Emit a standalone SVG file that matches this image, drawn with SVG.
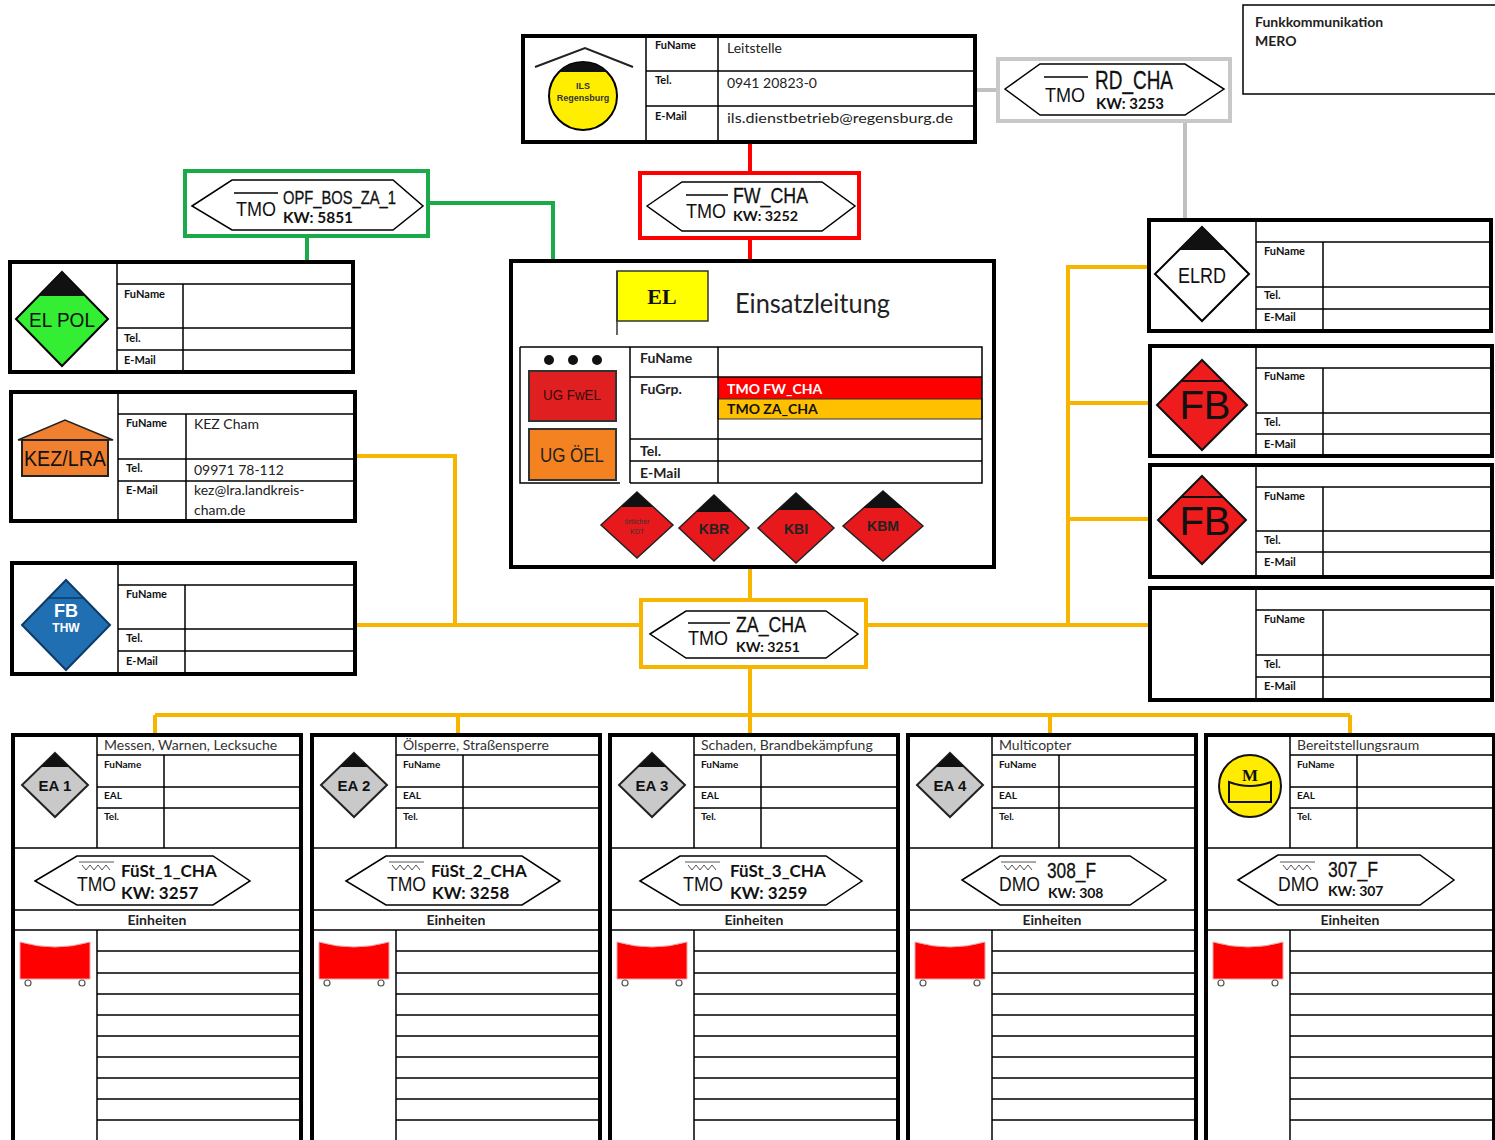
<svg xmlns="http://www.w3.org/2000/svg" width="1495" height="1140" viewBox="0 0 1495 1140">
<style>
.frame{fill:#fff;stroke:#000;stroke-width:4}
.ln{stroke:#000;stroke-width:1.5;fill:none}
.k{font-family:Lato,"Open Sans",sans-serif;font-weight:bold;font-size:11px;fill:#111}
.k2{font-family:Lato,"Open Sans",sans-serif;font-weight:bold;font-size:10px;fill:#111}
.v{font-family:Lato,"Open Sans",sans-serif;font-size:14px;fill:#222}
.hx{fill:#fff;stroke:#000;stroke-width:1.5}
.tmo{font-family:"Liberation Sans",sans-serif;font-size:20px;fill:#111}
.nm{font-family:"Liberation Sans",sans-serif;font-size:22px;fill:#111;stroke:#111;stroke-width:0.3}
.kw{font-family:Lato,"Open Sans",sans-serif;font-weight:bold;font-size:15px;fill:#111}
.fs{font-family:Lato,"Open Sans",sans-serif;font-weight:bold;font-size:17px;fill:#111}
.ttl{font-family:Lato,"Open Sans",sans-serif;font-size:14px;fill:#333}
.dt{font-family:"Liberation Sans",sans-serif;text-anchor:middle}
.wave{stroke:#555;stroke-width:1;fill:none}
.con{fill:none;stroke-width:4}
</style>

<!-- connectors -->
<g id="connectors" class="con">
  <path d="M976,90 H998 M1185,121 V220" stroke="#c0c0c0"/>
  <path d="M750,142 V173 M750,238 V261" stroke="#ff0000"/>
  <path d="M307,236 V262 M428,203 H553 V261" stroke="#1aaa4a"/>
  <path d="M750,567 V600 M641,625 H355 M455,625 V456 H355 M866,625 H1150 M1068,625 V267 H1149 M1068,403 H1150 M1068,519 H1150 M750,667 V715 M155,715 H1350 M155,715 V735 M458,715 V735 M750,715 V735 M1050,715 V735 M1350,715 V735" stroke="#f7b500"/>
</g>

<!-- ILS Leitstelle -->
<g id="ils">
  <rect class="frame" x="523" y="36" width="452" height="106"/>
  <path class="ln" d="M646,36 V142 M718,36 V142 M646,71 H975 M646,106 H975"/>
  <polyline points="535,67 585,48 633,67" fill="none" stroke="#222" stroke-width="2"/>
  <circle cx="583" cy="96" r="34" fill="#ffee00" stroke="#000" stroke-width="2"/>
  <path d="M559,72 A34,34 0 0 1 607,72 Z" fill="#111"/>
  <text x="583" y="89" class="dt" font-size="9" font-weight="bold" fill="#333">ILS</text>
  <text x="583" y="101" class="dt" font-size="9" font-weight="bold" fill="#333">Regensburg</text>
  <text x="655" y="49" class="k">FuName</text>
  <text x="655" y="84" class="k">Tel.</text>
  <text x="655" y="120" class="k">E-Mail</text>
  <text x="727" y="53" class="v">Leitstelle</text>
  <text x="727" y="88" class="v">0941 20823-0</text>
  <text x="727" y="123" class="v" textLength="226" lengthAdjust="spacingAndGlyphs">ils.dienstbetrieb@regensburg.de</text>
</g>

<!-- Funkkommunikation -->
<g id="funk">
  <rect x="1243" y="5" width="260" height="89" fill="#fff" stroke="#000" stroke-width="1.5"/>
  <text x="1255" y="27" class="v" font-weight="bold">Funkkommunikation</text>
  <text x="1255" y="46" class="v" font-weight="bold">MERO</text>
</g>

<!-- RD_CHA -->
<g id="rd_cha">
  <rect x="998" y="59" width="232" height="62" fill="#fff" stroke="#c8c8c8" stroke-width="4"/>
  <polygon class="hx" points="1005,89 1040,64 1185,64 1224,89 1185,115 1040,115"/>
  <line x1="1044" y1="77" x2="1088" y2="77" class="ln"/>
  <text x="1045" y="102" class="tmo" textLength="40" lengthAdjust="spacingAndGlyphs">TMO</text>
  <text x="1095" y="89" class="nm" style="font-size:25px" textLength="78" lengthAdjust="spacingAndGlyphs">RD_CHA</text>
  <text x="1096" y="109" class="kw" textLength="68" lengthAdjust="spacingAndGlyphs">KW: 3253</text>
</g>

<!-- FW_CHA -->
<g id="fw_cha">
  <rect x="640" y="173" width="219" height="65" fill="#fff" stroke="#ff0000" stroke-width="4"/>
  <polygon class="hx" points="647,206 682,182 822,182 855,206 822,231 682,231"/>
  <line x1="686" y1="195" x2="728" y2="195" class="ln"/>
  <text x="686" y="218" class="tmo" textLength="40" lengthAdjust="spacingAndGlyphs">TMO</text>
  <text x="733" y="203" class="nm" textLength="75" lengthAdjust="spacingAndGlyphs">FW_CHA</text>
  <text x="733" y="221" class="kw" style="font-size:14px" textLength="65" lengthAdjust="spacingAndGlyphs">KW: 3252</text>
</g>

<!-- OPF_BOS_ZA_1 -->
<g id="opf">
  <rect x="185" y="171" width="243" height="65" fill="#fff" stroke="#1aaa4a" stroke-width="4"/>
  <polygon class="hx" points="192,206 232,180 393,180 423,206 393,230 232,230"/>
  <line x1="234" y1="193" x2="278" y2="193" class="ln"/>
  <text x="236" y="216" class="tmo" textLength="40" lengthAdjust="spacingAndGlyphs">TMO</text>
  <text x="283" y="204" class="nm" style="font-size:18px" textLength="113" lengthAdjust="spacingAndGlyphs">OPF_BOS_ZA_1</text>
  <text x="283" y="223" class="kw" textLength="70" lengthAdjust="spacingAndGlyphs">KW: 5851</text>
</g>

<!-- ZA_CHA -->
<g id="za_cha">
  <rect x="641" y="600" width="225" height="67" fill="#fff" stroke="#f7b500" stroke-width="4"/>
  <polygon class="hx" points="650,634 686,611 826,611 858,634 826,658 686,658"/>
  <line x1="688" y1="623" x2="730" y2="623" class="ln"/>
  <text x="688" y="645" class="tmo" textLength="40" lengthAdjust="spacingAndGlyphs">TMO</text>
  <text x="736" y="632" class="nm" textLength="70" lengthAdjust="spacingAndGlyphs">ZA_CHA</text>
  <text x="736" y="652" class="kw" style="font-size:14px" textLength="64" lengthAdjust="spacingAndGlyphs">KW: 3251</text>
</g>

<!-- EL POL -->
<g id="elpol">
  <rect class="frame" x="10" y="262" width="343" height="110"/>
  <path class="ln" d="M117,262 V372 M117,284 H353 M183,284 V372 M117,328 H353 M117,350 H353"/>
  <polygon points="62,272 108,319 62,366 16,319" fill="#33ee33" stroke="#000" stroke-width="2"/>
  <polygon points="62,272 85.5,296 38.5,296" fill="#111"/>
  <text x="62" y="327" class="dt" font-size="21" fill="#111" textLength="66" lengthAdjust="spacingAndGlyphs">EL POL</text>
  <text x="124" y="298" class="k">FuName</text>
  <text x="124" y="342" class="k">Tel.</text>
  <text x="124" y="364" class="k">E-Mail</text>
</g>

<!-- KEZ/LRA -->
<g id="kez">
  <rect class="frame" x="11" y="392" width="344" height="129"/>
  <path class="ln" d="M118,392 V521 M118,414 H355 M186,414 V521 M118,459 H355 M118,481 H355"/>
  <polygon points="18,440 65,420 113,440" fill="#f08030" stroke="#222" stroke-width="1.5"/>
  <rect x="22" y="440" width="86" height="36" fill="#f08030" stroke="#222" stroke-width="2"/>
  <text x="65" y="466" class="dt" font-size="22" fill="#111" textLength="82" lengthAdjust="spacingAndGlyphs">KEZ/LRA</text>
  <text x="126" y="427" class="k">FuName</text>
  <text x="126" y="472" class="k">Tel.</text>
  <text x="126" y="494" class="k">E-Mail</text>
  <text x="194" y="429" class="v">KEZ Cham</text>
  <text x="194" y="475" class="v">09971 78-112</text>
  <text x="194" y="495" class="v">kez@lra.landkreis-</text>
  <text x="194" y="515" class="v">cham.de</text>
</g>

<!-- FB THW -->
<g id="fbthw">
  <rect class="frame" x="12" y="563" width="343" height="111"/>
  <path class="ln" d="M118,563 V674 M118,585 H355 M185,585 V674 M118,629 H355 M118,651 H355"/>
  <polygon points="66,580 110,625 66,670 22,625" fill="#1f6fb2" stroke="#0d3b66" stroke-width="2"/>
  <line x1="48" y1="598" x2="84" y2="598" stroke="#0d3b66" stroke-width="1.5"/>
  <text x="66" y="617" class="dt" font-size="18" font-weight="bold" fill="#fff">FB</text>
  <text x="66" y="632" class="dt" font-size="12" font-weight="bold" fill="#fff">THW</text>
  <text x="126" y="598" class="k">FuName</text>
  <text x="126" y="642" class="k">Tel.</text>
  <text x="126" y="665" class="k">E-Mail</text>
</g>

<!-- Einsatzleitung -->
<g id="el">
  <rect class="frame" x="511" y="261" width="483" height="306"/>
  <rect x="617" y="271" width="91" height="50" fill="#ffff00" stroke="#333" stroke-width="1.5"/>
  <line x1="617" y1="271" x2="617" y2="335" stroke="#333" stroke-width="1.5"/>
  <text x="662" y="304" text-anchor="middle" font-family="'Liberation Serif',serif" font-weight="bold" font-size="22" fill="#111">EL</text>
  <text x="735" y="313" font-family="Lato,'Open Sans',sans-serif" font-size="26" fill="#222" textLength="155" lengthAdjust="spacingAndGlyphs">Einsatzleitung</text>
  <rect x="718" y="377" width="264" height="22" fill="#ff0000"/>
  <rect x="718" y="399" width="264" height="20" fill="#ffc000" stroke="#333" stroke-width="1"/>
  <path class="ln" d="M520,347 H982 V483 H630 M620,483 H520 V347 M630,347 V483 M718,347 V483 M630,377 H982 M630,439 H982 M630,461 H982"/>
  <circle cx="549" cy="360" r="5" fill="#111"/>
  <circle cx="573" cy="360" r="5" fill="#111"/>
  <circle cx="597" cy="360" r="5" fill="#111"/>
  <rect x="529" y="371" width="87" height="50" fill="#e02020" stroke="#333" stroke-width="2"/>
  <text x="572" y="400" class="dt" font-size="14" fill="#3a0a0a" textLength="58" lengthAdjust="spacingAndGlyphs">UG FwEL</text>
  <rect x="529" y="429" width="87" height="51" fill="#f58220" stroke="#333" stroke-width="2"/>
  <text x="572" y="462" class="dt" font-size="20" fill="#222" textLength="64" lengthAdjust="spacingAndGlyphs">UG ÖEL</text>
  <text x="640" y="363" class="v" font-weight="bold">FuName</text>
  <text x="640" y="394" class="v" font-weight="bold">FuGrp.</text>
  <text x="640" y="456" class="v" font-weight="bold">Tel.</text>
  <text x="640" y="478" class="v" font-weight="bold">E-Mail</text>
  <text x="727" y="394" class="v" font-weight="bold" style="fill:#fff">TMO FW_CHA</text>
  <text x="727" y="414" class="v" font-weight="bold" style="fill:#111">TMO ZA_CHA</text>
  <polygon points="637,492 673,525 637,558 601,525" fill="#e8191d" stroke="#222" stroke-width="1.5"/>
  <polygon points="637,492 653,507 621,507" fill="#111"/>
  <text x="637" y="524" class="dt" font-size="7" fill="#333">örtlicher</text>
  <text x="637" y="534" class="dt" font-size="7" fill="#333">KDT</text>
  <polygon points="714,495 749,528 714,561 679,528" fill="#e8191d" stroke="#222" stroke-width="1.5"/>
  <polygon points="714,495 732,512 696,512" fill="#111"/>
  <text x="714" y="534" class="dt" font-size="14" font-weight="bold" fill="#222">KBR</text>
  <polygon points="796,493 834,528 796,563 758,528" fill="#e8191d" stroke="#222" stroke-width="1.5"/>
  <polygon points="796,493 814,510 778,510" fill="#111"/>
  <text x="796" y="534" class="dt" font-size="14" font-weight="bold" fill="#222">KBI</text>
  <polygon points="883,491 923,526 883,561 843,526" fill="#e8191d" stroke="#222" stroke-width="1.5"/>
  <polygon points="883,491 903,508 863,508" fill="#111"/>
  <text x="883" y="531" class="dt" font-size="14" font-weight="bold" fill="#222">KBM</text>
</g>

<!-- ELRD -->
<g id="elrd">
  <rect class="frame" x="1149" y="220" width="342" height="111"/>
  <path class="ln" d="M1256,220 V331 M1256,242 H1491 M1323,242 V331 M1256,287 H1491 M1256,309 H1491"/>
  <polygon points="1202,227 1249,274 1202,321 1155,274" fill="#fff" stroke="#000" stroke-width="2"/>
  <polygon points="1202,227 1225,250 1179,250" fill="#111"/>
  <text x="1202" y="283" class="dt" font-size="22" fill="#111" textLength="48" lengthAdjust="spacingAndGlyphs">ELRD</text>
  <text x="1264" y="255" class="k">FuName</text>
  <text x="1264" y="299" class="k">Tel.</text>
  <text x="1264" y="321" class="k">E-Mail</text>
</g>

<!-- FB 1 -->
<g id="fb1">
  <rect class="frame" x="1150" y="346" width="342" height="110"/>
  <path class="ln" d="M1256,346 V456 M1256,368 H1492 M1323,368 V456 M1256,413 H1492 M1256,434 H1492"/>
  <polygon points="1202,360 1247,405 1202,450 1157,405" fill="#ee1c1c" stroke="#111" stroke-width="2"/>
  <line x1="1182" y1="381" x2="1222" y2="381" stroke="#111" stroke-width="2"/>
  <text x="1205" y="419" class="dt" font-size="40" fill="#111">FB</text>
  <text x="1264" y="380" class="k">FuName</text>
  <text x="1264" y="426" class="k">Tel.</text>
  <text x="1264" y="448" class="k">E-Mail</text>
</g>

<!-- FB 2 -->
<g id="fb2">
  <rect class="frame" x="1150" y="465" width="342" height="112"/>
  <path class="ln" d="M1256,465 V577 M1256,487 H1492 M1323,487 V577 M1256,531 H1492 M1256,552 H1492"/>
  <polygon points="1202,476 1246,520 1202,564 1158,520" fill="#ee1c1c" stroke="#111" stroke-width="2"/>
  <line x1="1181" y1="497" x2="1223" y2="497" stroke="#111" stroke-width="2"/>
  <text x="1205" y="535" class="dt" font-size="40" fill="#111">FB</text>
  <text x="1264" y="500" class="k">FuName</text>
  <text x="1264" y="544" class="k">Tel.</text>
  <text x="1264" y="566" class="k">E-Mail</text>
</g>

<!-- Empty right box -->
<g id="box4">
  <rect class="frame" x="1150" y="588" width="342" height="112"/>
  <path class="ln" d="M1256,588 V700 M1256,610 H1492 M1323,610 V700 M1256,655 H1492 M1256,677 H1492"/>
  <text x="1264" y="623" class="k">FuName</text>
  <text x="1264" y="668" class="k">Tel.</text>
  <text x="1264" y="690" class="k">E-Mail</text>
</g>

<defs>
  <g id="eaframe">
    <rect class="frame" x="13" y="735" width="288" height="420"/>
    <path class="ln" d="M97,735 V848 M97,755 H301 M164,755 V848 M97,787 H301 M97,808 H301 M13,848 H301 M13,910 H301 M13,930 H301 M97,930 V1140 M97,951 H301 M97,973 H301 M97,994 H301 M97,1015 H301 M97,1036 H301 M97,1057 H301 M97,1078 H301 M97,1099 H301 M97,1120 H301"/>
    <text x="104" y="768" class="k2">FuName</text>
    <text x="104" y="799" class="k2">EAL</text>
    <text x="104" y="820" class="k2">Tel.</text>
    <text x="157" y="925" class="v" font-weight="bold" text-anchor="middle">Einheiten</text>
    <path d="M20,942 Q55,952 90,942 L90,979 L20,979 Z" fill="#ff0000" stroke="#f4a0a0" stroke-width="1"/>
    <circle cx="28" cy="983" r="3" fill="none" stroke="#555" stroke-width="1.2"/>
    <circle cx="82" cy="983" r="3" fill="none" stroke="#555" stroke-width="1.2"/>
  </g>
  <g id="eadia">
    <polygon points="55,753 88,785 55,817 22,785" fill="#c9c9c9" stroke="#222" stroke-width="2"/>
    <polygon points="55,753 69.4,767 40.6,767" fill="#111"/>
  </g>
</defs>

<!-- EA 1 -->
<g id="ea1">
  <use href="#eaframe"/>
  <use href="#eadia"/>
  <text x="55" y="791" class="dt" font-size="15" font-weight="bold" fill="#111">EA 1</text>
  <text x="104" y="750" class="ttl">Messen, Warnen, Lecksuche</text>
  <polygon class="hx" points="35,881 77,856 213,856 250,881 213,905 77,905"/>
  <line x1="79" y1="862" x2="114" y2="862" class="wave"/>
  <polyline class="wave" points="82,865 86,870 90,865 94,870 98,865 102,870 106,865 110,870"/>
  <text x="77" y="891" class="tmo" textLength="39" lengthAdjust="spacingAndGlyphs">TMO</text>
  <text x="121" y="877" class="fs">FüSt_1_CHA</text>
  <text x="121" y="899" class="fs">KW: 3257</text>
</g>

<!-- EA 2 -->
<g id="ea2" transform="translate(299,0)">
  <use href="#eaframe"/>
  <use href="#eadia"/>
  <text x="55" y="791" class="dt" font-size="15" font-weight="bold" fill="#111">EA 2</text>
  <text x="104" y="750" class="ttl">Ölsperre, Straßensperre</text>
  <polygon class="hx" points="47,881 87,856 223,856 261,881 223,905 87,905"/>
  <line x1="90" y1="862" x2="125" y2="862" class="wave"/>
  <polyline class="wave" points="93,865 97,870 101,865 105,870 109,865 113,870 117,865 121,870"/>
  <text x="88" y="891" class="tmo" textLength="39" lengthAdjust="spacingAndGlyphs">TMO</text>
  <text x="132" y="877" class="fs">FüSt_2_CHA</text>
  <text x="133" y="899" class="fs">KW: 3258</text>
</g>

<!-- EA 3 -->
<g id="ea3" transform="translate(597,0)">
  <use href="#eaframe"/>
  <use href="#eadia"/>
  <text x="55" y="791" class="dt" font-size="15" font-weight="bold" fill="#111">EA 3</text>
  <text x="104" y="750" class="ttl">Schaden, Brandbekämpfung</text>
  <polygon class="hx" points="43,881 83,856 229,856 265,881 229,905 83,905"/>
  <line x1="88" y1="862" x2="123" y2="862" class="wave"/>
  <polyline class="wave" points="91,865 95,870 99,865 103,870 107,865 111,870 115,865 119,870"/>
  <text x="86" y="891" class="tmo" textLength="40" lengthAdjust="spacingAndGlyphs">TMO</text>
  <text x="133" y="877" class="fs">FüSt_3_CHA</text>
  <text x="133" y="899" class="fs">KW: 3259</text>
</g>

<!-- EA 4 -->
<g id="ea4" transform="translate(895,0)">
  <use href="#eaframe"/>
  <use href="#eadia"/>
  <text x="55" y="791" class="dt" font-size="15" font-weight="bold" fill="#111">EA 4</text>
  <text x="104" y="750" class="ttl">Multicopter</text>
  <polygon class="hx" points="67,880 105,856 235,856 271,880 235,905 105,905"/>
  <line x1="106" y1="862" x2="141" y2="862" class="wave"/>
  <polyline class="wave" points="109,865 113,870 117,865 121,870 125,865 129,870 133,865 137,870"/>
  <text x="104" y="891" class="tmo" textLength="41" lengthAdjust="spacingAndGlyphs">DMO</text>
  <text x="152" y="878" class="nm" textLength="49" lengthAdjust="spacingAndGlyphs">308_F</text>
  <text x="153" y="898" class="kw" style="font-size:14px">KW: 308</text>
</g>

<!-- EA 5 Bereitstellungsraum -->
<g id="ea5" transform="translate(1193,0)">
  <use href="#eaframe"/>
  <circle cx="57" cy="786" r="31" fill="#ffec00" stroke="#111" stroke-width="2"/>
  <text x="57" y="781" text-anchor="middle" font-family="'Liberation Serif',serif" font-weight="bold" font-size="17" fill="#111">M</text>
  <path d="M36,782 Q57,790 78,782 L78,802 L36,802 Z" fill="none" stroke="#111" stroke-width="2"/>
  <text x="104" y="750" class="ttl">Bereitstellungsraum</text>
  <polygon class="hx" points="45,880 85,855 227,855 261,880 227,905 85,905"/>
  <line x1="87" y1="862" x2="122" y2="862" class="wave"/>
  <polyline class="wave" points="90,865 94,870 98,865 102,870 106,865 110,870 114,865 118,870"/>
  <text x="85" y="891" class="tmo" textLength="41" lengthAdjust="spacingAndGlyphs">DMO</text>
  <text x="135" y="877" class="nm" textLength="50" lengthAdjust="spacingAndGlyphs">307_F</text>
  <text x="135" y="896" class="kw" style="font-size:14px">KW: 307</text>
</g>
</svg>
